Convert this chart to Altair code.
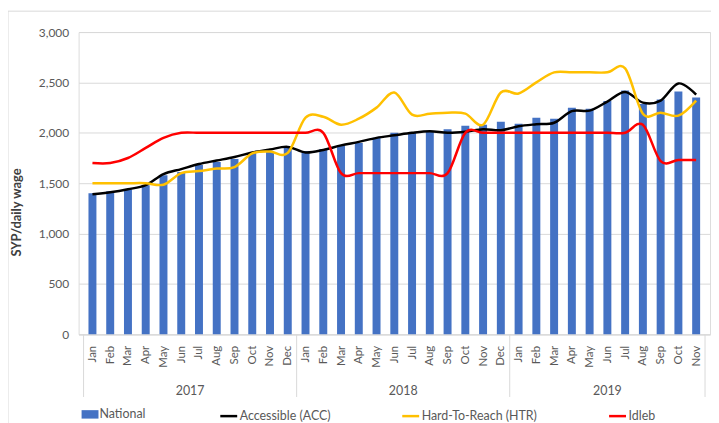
import altair as alt
import pandas as pd

months = ["Jan", "Feb", "Mar", "Apr", "May", "Jun", "Jul", "Aug", "Sep", "Oct", "Nov", "Dec"]
years = [2017, 2018, 2019]
months_per_year = [12, 12, 11]

national = [1400, 1420, 1440, 1480, 1580, 1610, 1680, 1710, 1740, 1800, 1815, 1850,
            1820, 1840, 1870, 1900, 1950, 2000, 2000, 2010, 2035, 2070, 2080, 2110,
            2090, 2150, 2140, 2250, 2240, 2315, 2420, 2285, 2330, 2410, 2350]
accessible = [1390, 1410, 1440, 1480, 1590, 1640, 1690, 1725, 1760, 1805, 1835, 1860,
              1805, 1830, 1875, 1910, 1950, 1975, 2000, 2015, 2000, 2010, 2035, 2025,
              2065, 2085, 2100, 2215, 2220, 2310, 2405, 2300, 2320, 2490, 2380]
htr = [1500, 1500, 1500, 1500, 1485, 1600, 1620, 1645, 1660, 1795, 1815, 1800,
       2150, 2160, 2080, 2140, 2250, 2400, 2180, 2190, 2200, 2190, 2080, 2400,
       2390, 2500, 2600, 2600, 2600, 2600, 2640, 2190, 2200, 2170, 2320]
idleb = [1700, 1700, 1750, 1850, 1950, 2000, 2000, 2000, 2000, 2000, 2000, 2000,
         2000, 2000, 1600, 1600, 1600, 1600, 1600, 1600, 1600, 2000, 2000, 2000,
         2000, 2000, 2000, 2000, 2000, 2000, 2000, 2080, 1720, 1730, 1730]
y_ticks = [0, 500, 1000, 1500, 2000, 2500, 3000]

series_names = ["Accessible (ACC)", "Hard-To-Reach (HTR)", "Idleb"]
series_colors = ["#000000", "#FFC000", "#FF0000"]
bar_color = "#4472C4"

W, H = 635, 304
FONT = "Lato"
TXT = "#595959"
GRID = "#d9d9d9"

n = len(national)
idx = list(range(n))
bars_df = pd.DataFrame({"i": idx, "v": national, "s": ["National"] * n})
lines_df = pd.DataFrame({
    "i": idx * 3,
    "v": accessible + htr + idleb,
    "s": [series_names[0]] * n + [series_names[1]] * n + [series_names[2]] * n,
})

# year groups
starts = [sum(months_per_year[:k]) for k in range(len(years))]
year_df = pd.DataFrame({
    "year": [str(y) for y in years],
    "c": [s + (m - 1) / 2 for s, m in zip(starts, months_per_year)],
})
bound_df = pd.DataFrame({"b": [s - 0.5 for s in starts] + [n - 0.5]})

xscale = alt.Scale(domain=[-0.5, n - 0.5], nice=False, zero=False)
yscale = alt.Scale(domain=[0, 3000], nice=False)
month_expr = "[" + ",".join("'%s'" % m for m in months) + "][datum.value % 12]"

xaxis = alt.Axis(values=idx, labelExpr=month_expr, labelAngle=-90, labelAlign="right",
                 labelBaseline="middle", ticks=False, grid=False, domainColor=GRID,
                 labelFont=FONT, labelFontSize=11.5, labelColor=TXT, labelPadding=11,
                 title=None, labelOverlap=False, labelBound=False)
yaxis = alt.Axis(values=y_ticks, format=",.0f", domain=False,
                 ticks=False, gridColor=GRID, labelFont=FONT, labelFontSize=12,
                 labelColor=TXT, labelPadding=10, title="SYP/daily  wage",
                 titleFont=FONT, titleFontSize=13, titleFontWeight="bold",
                 titleColor="#404040", titleX=-55, titleY=181, titleAngle=-90,
                 titleAlign="center", titleBaseline="bottom")

bars = alt.Chart(bars_df).mark_bar(width=8).encode(
    x=alt.X("i:Q", scale=xscale, axis=xaxis),
    y=alt.Y("v:Q", scale=yscale, axis=yaxis),
    fill=alt.Fill("s:N", scale=alt.Scale(domain=["National"], range=[bar_color]),
                  legend=alt.Legend(title=None, orient="none", legendX=3, legendY=376,
                                    direction="horizontal", symbolType="M-1,-0.5H1V0.5H-1Z",
                                    symbolSize=289, symbolStrokeWidth=0,
                                    labelFont=FONT, labelFontSize=12.5, labelColor=TXT,
                                    labelOffset=1, padding=0)),
)

lines = alt.Chart(lines_df).mark_line(interpolate="cardinal", tension=0, strokeWidth=2.5).encode(
    x=alt.X("i:Q", scale=xscale, axis=xaxis),
    y=alt.Y("v:Q", scale=yscale, axis=yaxis),
    stroke=alt.Stroke("s:N", scale=alt.Scale(domain=series_names, range=series_colors),
                      legend=alt.Legend(title=None, orient="none", legendX=141, legendY=376,
                                        direction="horizontal", symbolType="stroke",
                                        symbolSize=289, symbolStrokeWidth=2.5,
                                        columnPadding=66, labelFont=FONT, labelFontSize=12.5,
                                        labelColor=TXT, labelOffset=1, padding=0)),
    detail="s:N",
)

seps = alt.Chart(bound_df).mark_rule(color=GRID, strokeWidth=1).encode(
    x=alt.X("b:Q", scale=xscale, axis=xaxis),
    y=alt.value(H),
    y2=alt.value(H + 63),
)

year_text = alt.Chart(year_df).mark_text(font=FONT, fontSize=12.5, color=TXT, baseline="middle").encode(
    x=alt.X("c:Q", scale=xscale, axis=xaxis),
    y=alt.value(H + 57),
    text="year:N",
)

frame = alt.Chart(alt.Data(values=[{"f": 1}])).mark_rect(
    fillOpacity=0, stroke=GRID, strokeWidth=1
).encode(
    x=alt.value(-71), x2=alt.value(W + 60), y=alt.value(-21), y2=alt.value(H + 150)
)

chart = alt.layer(frame, bars, lines, seps, year_text).properties(
    width=W, height=H,
    autosize=alt.AutoSizeParams(type="none"),
    padding={"left": 71, "top": 23, "right": 1, "bottom": 92},
).configure_view(stroke=None).configure(background="white")

chart.save("out.html", embed_options={"renderer": "svg", "actions": False})
